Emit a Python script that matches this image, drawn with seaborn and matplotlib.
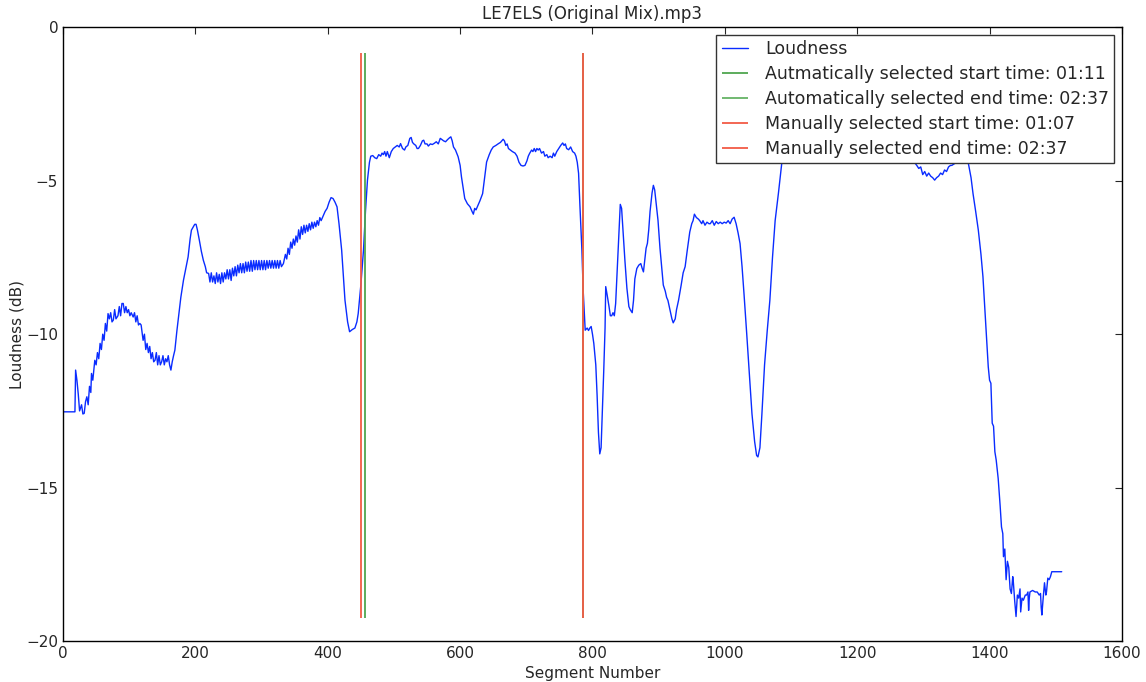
import numpy as np
import pandas as pd
import matplotlib
matplotlib.use("Agg")
import matplotlib.pyplot as plt
import seaborn as sns

titulo = "LE7ELS (Original Mix).mp3"

# segment number / loudness (dB)
segmentos = [
    0, 18, 19, 21, 23, 25, 28, 30, 32, 34, 36, 38, 40, 42, 43, 45, 48, 50, 52, 54,
    56, 58, 60, 62, 64, 66, 68, 70, 72, 74, 76, 78, 80, 83, 85, 87, 89, 91, 93, 95,
    97, 99, 101, 103, 106, 108, 110, 112, 114, 116, 118, 121, 123, 125, 127, 129, 131, 133, 135, 137,
    139, 141, 143, 145, 147, 149, 151, 153, 155, 157, 159, 161, 163, 165, 167, 169, 172, 174, 178, 182,
    186, 189, 192, 194, 197, 199, 201, 203, 206, 209, 212, 215, 217, 220, 222, 224, 226, 228, 230, 232,
    234, 236, 238, 240, 242, 244, 246, 248, 250, 252, 254, 256, 258, 260, 262, 264, 266, 268, 270, 272,
    274, 276, 278, 280, 282, 284, 286, 288, 290, 292, 294, 296, 298, 300, 302, 304, 306, 308, 310, 312,
    314, 316, 318, 320, 322, 324, 326, 328, 330, 333, 336, 338, 340, 342, 344, 346, 348, 350, 352, 354,
    356, 358, 360, 362, 364, 366, 368, 370, 372, 374, 376, 378, 380, 382, 384, 386, 388, 390, 393, 396,
    399, 402, 405, 408, 411, 414, 417, 421, 426, 430, 433, 437, 441, 444, 446, 450, 454, 457, 460, 463,
    465, 468, 471, 474, 477, 480, 482, 484, 486, 488, 490, 493, 496, 499, 502, 505, 508, 510, 513, 516,
    518, 521, 524, 526, 528, 530, 533, 535, 537, 540, 543, 545, 547, 550, 552, 555, 558, 561, 564, 567,
    570, 572, 575, 578, 581, 584, 586, 588, 590, 593, 597, 600, 602, 605, 607, 611, 615, 618, 620, 622,
    624, 627, 630, 634, 637, 640, 644, 647, 650, 654, 658, 661, 663, 665, 667, 669, 671, 673, 676, 679,
    683, 686, 689, 692, 695, 698, 701, 703, 705, 708, 710, 712, 714, 716, 718, 720, 723, 726, 728, 731,
    733, 736, 739, 741, 743, 746, 749, 752, 755, 757, 759, 761, 764, 767, 770, 773, 775, 777, 779, 781,
    784, 786, 789, 792, 794, 796, 798, 800, 802, 805, 807, 809, 811, 813, 815, 817, 819, 820, 822, 825,
    827, 829, 831, 833, 835, 838, 840, 842, 844, 846, 849, 852, 855, 857, 860, 862, 864, 867, 870, 873,
    875, 877, 879, 881, 883, 885, 887, 890, 892, 894, 896, 899, 902, 905, 907, 910, 912, 914, 917, 920,
    922, 925, 927, 930, 934, 937, 940, 943, 947, 950, 952, 954, 957, 960, 962, 965, 967, 970, 973, 976,
    978, 981, 984, 987, 990, 993, 996, 999, 1002, 1005, 1008, 1011, 1014, 1017, 1020, 1023, 1026, 1029, 1033, 1037,
    1041, 1045, 1048, 1050, 1053, 1056, 1060, 1064, 1068, 1072, 1076, 1081, 1086, 1092, 1100, 1120, 1150, 1180, 1210, 1240,
    1265, 1283, 1290, 1293, 1296, 1299, 1302, 1305, 1308, 1311, 1314, 1317, 1320, 1323, 1326, 1329, 1332, 1335, 1338, 1341,
    1343, 1350, 1360, 1368, 1372, 1375, 1379, 1383, 1387, 1390, 1394, 1398, 1400, 1402, 1404, 1406, 1408, 1410, 1413, 1416,
    1418, 1420, 1421, 1423, 1425, 1427, 1429, 1431, 1433, 1435, 1436, 1438, 1440, 1442, 1444, 1446, 1447, 1449, 1451, 1454,
    1456, 1458, 1459, 1460, 1461, 1465, 1469, 1472, 1475, 1477, 1478, 1479, 1481, 1483, 1485, 1486, 1488, 1490, 1492, 1494,
    1509,
]
loudness = [
    -12.53, -12.53, -11.17, -11.5, -11.95, -12.5, -12.3, -12.6, -12.58, -12.2, -12.04, -12.3, -11.7, -11.9, -11.28, -11.5, -10.85, -11.0, -10.6, -10.8,
    -10.3, -10.5, -10.0, -10.2, -9.65, -9.9, -9.33, -9.5, -9.3, -9.6, -9.54, -9.2, -9.5, -9.4, -9.1, -9.4, -9.0, -9.0, -9.3, -9.1,
    -9.3, -9.2, -9.4, -9.3, -9.44, -9.3, -9.6, -9.4, -9.7, -9.65, -9.7, -10.2, -10.0, -10.5, -10.3, -10.6, -10.4, -10.8, -10.6, -10.9,
    -10.85, -10.6, -11.0, -10.7, -11.0, -10.9, -10.7, -11.0, -10.8, -10.9, -10.7, -11.0, -11.17, -10.9, -10.7, -10.52, -9.9, -9.54, -8.8, -8.24,
    -7.8, -7.48, -6.9, -6.61, -6.5, -6.42, -6.42, -6.6, -6.94, -7.3, -7.59, -7.8, -8.0, -8.02, -8.3, -8.0, -8.3, -8.1, -8.35, -8.0,
    -8.3, -8.05, -8.35, -8.0, -8.3, -8.0, -8.2, -7.9, -8.2, -7.9, -8.25, -7.85, -8.1, -7.8, -8.1, -7.75, -8.0, -7.7, -8.0, -7.7,
    -8.0, -7.65, -7.95, -7.65, -7.95, -7.6, -7.95, -7.6, -7.9, -7.6, -7.9, -7.6, -7.9, -7.6, -7.9, -7.6, -7.9, -7.6, -7.85, -7.6,
    -7.85, -7.6, -7.85, -7.6, -7.85, -7.6, -7.85, -7.6, -7.8, -7.7, -7.4, -7.55, -7.2, -7.4, -7.0, -7.2, -6.9, -7.1, -6.8, -7.0,
    -6.6, -6.9, -6.5, -6.75, -6.45, -6.7, -6.45, -6.65, -6.4, -6.6, -6.35, -6.55, -6.35, -6.5, -6.3, -6.45, -6.2, -6.3, -6.15, -6.0,
    -5.9, -5.7, -5.55, -5.58, -5.7, -5.85, -6.4, -7.26, -8.89, -9.6, -9.92, -9.85, -9.8, -9.6, -9.33, -8.4, -7.26, -6.0, -4.98, -4.4,
    -4.2, -4.18, -4.25, -4.28, -4.15, -4.2, -4.1, -4.15, -4.05, -4.2, -4.05, -4.25, -4.05, -3.95, -3.9, -3.85, -3.9, -3.79, -3.95, -4.0,
    -3.9, -3.85, -3.62, -3.59, -3.75, -3.8, -3.85, -3.95, -3.95, -3.85, -3.7, -3.68, -3.8, -3.8, -3.87, -3.8, -3.82, -3.78, -3.73, -3.8,
    -3.62, -3.65, -3.7, -3.73, -3.66, -3.6, -3.57, -3.7, -3.9, -4.0, -4.22, -4.5, -4.87, -5.3, -5.58, -5.75, -5.85, -6.0, -6.09, -5.9,
    -5.95, -5.8, -5.65, -5.42, -4.9, -4.39, -4.15, -4.0, -3.9, -3.85, -3.79, -3.75, -3.7, -3.65, -3.7, -3.85, -3.8, -3.95, -4.0, -4.05,
    -4.1, -4.2, -4.4, -4.5, -4.52, -4.5, -4.35, -4.2, -4.11, -4.0, -4.05, -3.95, -4.05, -3.95, -4.0, -3.95, -4.1, -4.05, -4.2, -4.15,
    -4.25, -4.2, -4.25, -4.1, -4.2, -4.05, -3.95, -3.85, -3.77, -3.85, -3.8, -3.95, -3.99, -3.9, -4.05, -4.1, -4.2, -4.4, -4.76, -5.8,
    -7.26, -8.6, -9.87, -9.8, -9.88, -9.8, -9.75, -10.0, -10.3, -11.0, -12.0, -13.2, -13.9, -13.7, -12.5, -11.2, -9.8, -8.45, -8.7, -9.1,
    -9.4, -9.4, -9.3, -9.4, -9.0, -7.6, -6.6, -5.77, -5.9, -6.6, -7.6, -8.5, -9.1, -9.2, -9.3, -8.9, -8.2, -7.86, -7.75, -7.7,
    -7.85, -7.97, -7.6, -7.2, -7.04, -6.6, -6.0, -5.4, -5.15, -5.3, -5.7, -6.29, -7.2, -7.9, -8.4, -8.6, -8.8, -8.9, -9.2, -9.5,
    -9.63, -9.5, -9.2, -8.9, -8.4, -8.0, -7.8, -7.3, -6.67, -6.4, -6.3, -6.09, -6.2, -6.25, -6.3, -6.4, -6.3, -6.45, -6.35, -6.4,
    -6.4, -6.3, -6.45, -6.33, -6.4, -6.35, -6.4, -6.35, -6.38, -6.3, -6.4, -6.25, -6.19, -6.4, -6.7, -7.05, -7.8, -8.7, -9.97, -11.3,
    -12.6, -13.5, -13.95, -14.0, -13.7, -12.6, -11.0, -9.9, -8.9, -7.5, -6.3, -5.4, -4.43, -3.5, -3.0, -2.7, -2.6, -2.7, -2.9, -3.2,
    -3.7, -4.3, -4.5, -4.6, -4.55, -4.8, -4.7, -4.85, -4.75, -4.85, -4.9, -4.98, -4.9, -4.85, -4.75, -4.8, -4.65, -4.7, -4.55, -4.5,
    -4.5, -4.4, -4.4, -4.44, -4.9, -5.42, -6.0, -6.61, -7.4, -8.13, -9.6, -11.06, -11.5, -11.6, -12.9, -13.0, -13.83, -14.1, -14.7, -15.6,
    -16.28, -16.5, -17.25, -17.0, -18.0, -17.4, -17.6, -18.3, -18.45, -17.9, -18.1, -18.7, -19.2, -18.5, -18.6, -18.3, -19.05, -18.6, -18.67, -18.5,
    -18.5, -18.4, -19.0, -18.6, -18.4, -18.35, -18.4, -18.4, -18.5, -18.45, -18.9, -19.15, -18.6, -18.1, -18.5, -18.4, -17.95, -18.0, -17.9, -17.74,
    -17.74,
]

auto_inicio, auto_fim = 457, 786
manual_inicio, manual_fim = 450, 786
linha_min, linha_max = -19.25, -0.85

df = pd.DataFrame({"Segment Number": segmentos, "Loudness (dB)": loudness})

sns.set_style("white")
plt.rcParams["font.family"] = ["DejaVu Sans"]
plt.rcParams["xtick.direction"] = "in"
plt.rcParams["ytick.direction"] = "in"

fig, ax = plt.subplots(figsize=(11.46, 6.82), dpi=100)
fig.subplots_adjust(left=0.055, right=0.979, top=0.960, bottom=0.060)

sns.lineplot(data=df, x="Segment Number", y="Loudness (dB)", ax=ax,
             color="#0a2cff", linewidth=1.0, estimator=None, label="Loudness")
ax.vlines(auto_inicio, linha_min, linha_max, color="#4fa64f", linewidth=1.3,
          label="Autmatically selected start time: 01:11")
ax.vlines(auto_fim, linha_min, linha_max, color="#66b366", linewidth=1.3,
          label="Automatically selected end time: 02:37")
ax.vlines(manual_inicio, linha_min, linha_max, color="#f25a45", linewidth=1.3,
          label="Manually selected start time: 01:07")
ax.vlines(manual_fim, linha_min, linha_max, color="#f25a45", linewidth=1.3,
          label="Manually selected end time: 02:37")

ax.set_xlim(0, 1600)
ax.set_ylim(-20, 0)
ax.set_xticks(range(0, 1601, 200))
ax.set_yticks(range(-20, 1, 5))
ax.tick_params(top=True, right=True, labelsize=11, length=5, width=0.8)
for lado in ax.spines.values():
    lado.set_color("black")
    lado.set_linewidth(1.0)
ax.set_title(titulo, fontsize=12)
ax.set_xlabel("Segment Number", fontsize=11)
ax.set_ylabel("Loudness (dB)", fontsize=11, labelpad=1)

leg = ax.legend(loc="upper right", fontsize=12.5, frameon=True, fancybox=False,
                handlelength=1.5, handletextpad=1.0, borderaxespad=0.45,
                labelspacing=0.4, borderpad=0.3)
leg.get_frame().set_edgecolor("#333333")
leg.get_frame().set_linewidth(1.0)
leg.get_frame().set_alpha(1.0)

fig.savefig("out.png", dpi=100)
